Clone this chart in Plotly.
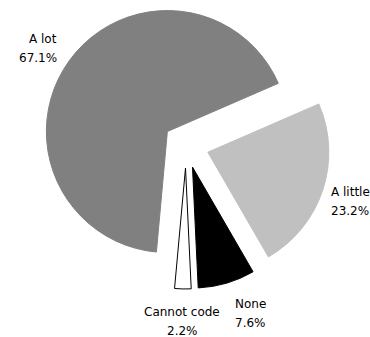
import math
import plotly.graph_objects as go

categories = ["A lot", "A little", "None", "Cannot code"]
values = [67.1, 23.2, 7.6, 2.2]
colors = ["#808080", "#c0c0c0", "#000000", "#ffffff"]
line_colors = ["#808080", "#c0c0c0", "#000000", "#000000"]

W, H = 370, 337
L, R, T, B = 36, 34, 1, 48
pw, ph = W - L - R, H - T - B
PULL = 0.19
ROTATION = 185.2
FONT = dict(family="DejaVu Sans", size=12, color="#000000")

fig = go.Figure(go.Pie(
    labels=categories,
    values=values,
    sort=False,
    direction="clockwise",
    rotation=ROTATION,
    pull=[PULL] * len(values),
    marker=dict(colors=colors, line=dict(color=line_colors, width=1)),
    textinfo="none",
    hoverinfo="label+value",
    showlegend=False,
    automargin=False,
))

# pie geometry as laid out by plotly (pixels)
r = min(pw, ph) / (2 + 2 * PULL)
cx, cy = L + pw / 2, T + ph / 2

annotations = []
total = sum(values)
start = ROTATION
for cat, v in zip(categories, values):
    span = 360.0 * v / total
    mid = math.radians(start + span / 2)
    start += span
    s, c = math.sin(mid), math.cos(mid)
    ra = r * (1.18 + 0.2 * abs(c))
    px = cx + ra * s
    py = cy - ra * c
    xa = "left" if s > 0.2 else ("right" if s < -0.2 else "center")
    if c < 0:
        ya, shifts = "top", (9, -10)
    else:
        ya, shifts = "bottom", (5, -14)
    xp = (px - L) / pw
    yp = 1 - (py - T) / ph
    for txt, ys in zip([cat, f"{v:.1f}%"], shifts):
        annotations.append(dict(
            x=xp, y=yp, xref="paper", yref="paper", text=txt,
            showarrow=False, xanchor=xa, yanchor=ya, yshift=ys, font=FONT,
        ))

fig.update_layout(
    width=W, height=H,
    margin=dict(l=L, r=R, t=T, b=B),
    paper_bgcolor="white",
    plot_bgcolor="white",
    annotations=annotations,
)

fig.write_html(
    "out.html",
    config={"displayModeBar": False},
    post_script="document.body.style.margin='0';",
)
